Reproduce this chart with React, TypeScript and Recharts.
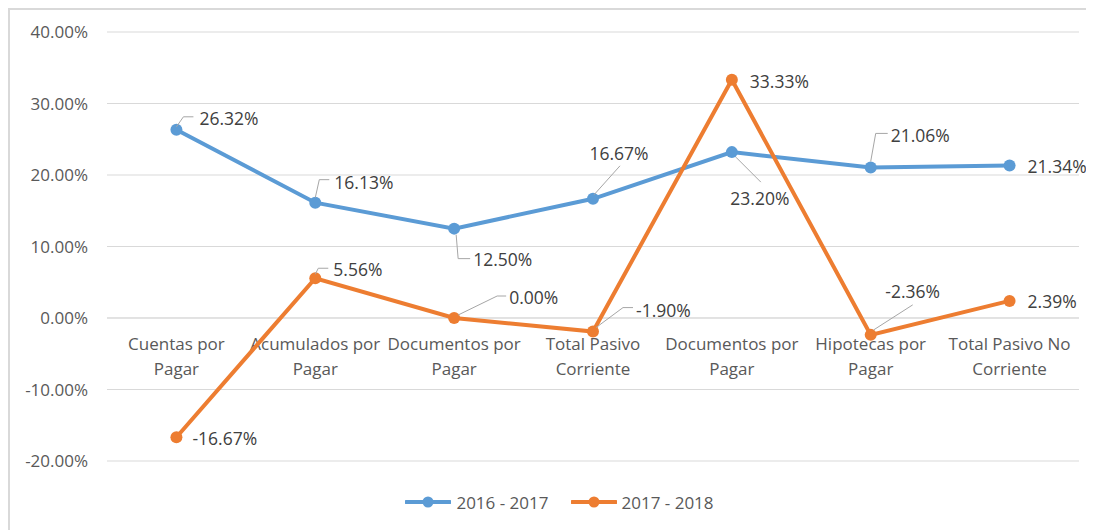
import React from 'react';
import { LineChart, Line, XAxis, YAxis, CartesianGrid, ReferenceLine, Legend, LabelList } from 'recharts';

const categories = [
  'Cuentas por\nPagar',
  'Acumulados por\nPagar',
  'Documentos por\nPagar',
  'Total Pasivo\nCorriente',
  'Documentos por\nPagar',
  'Hipotecas por\nPagar',
  'Total Pasivo No\nCorriente',
];
const series2016 = [26.32, 16.13, 12.5, 16.67, 23.2, 21.06, 21.34];
const series2017 = [-16.67, 5.56, 0.0, -1.9, 33.33, -2.36, 2.39];
const yTicks = [-20, -10, 0, 10, 20, 30, 40];
const seriesNames = ['2016 - 2017', '2017 - 2018'];

const data = categories.map((name, i) => ({ id: `c${i}`, name, a: series2016[i], b: series2017[i] }));

const BLUE = '#5B9BD5';
const ORANGE = '#ED7D31';
const GRID = '#D9D9D9';
const FONT = "'Open Sans', sans-serif";

type LabelPos = { dx: number; dy: number; anchor: 'start' | 'middle' | 'end'; leader?: [number, number][] };

const blueLabels: LabelPos[] = [
  { dx: 23, dy: -12, anchor: 'start', leader: [[0, -3], [7, -13], [17, -13]] },
  { dx: 19, dy: -21, anchor: 'start', leader: [[0, -5], [4, -23], [14, -23]] },
  { dx: 19, dy: 30, anchor: 'start', leader: [[2, 6], [4, 30], [16, 30]] },
  { dx: 26, dy: -46, anchor: 'middle', leader: [[1, -4], [27, -33]] },
  { dx: 28, dy: 46, anchor: 'middle', leader: [[4, 5], [29, 30]] },
  { dx: 20, dy: -32, anchor: 'start', leader: [[0, -6], [5, -34], [17, -34]] },
  { dx: 18, dy: 1, anchor: 'start' },
];
const orangeLabels: LabelPos[] = [
  { dx: 16, dy: 1, anchor: 'start' },
  { dx: 18, dy: -9, anchor: 'start', leader: [[0, -4], [3, -10], [13, -10]] },
  { dx: 55, dy: -21, anchor: 'start', leader: [[4, -3], [43, -22], [52, -22]] },
  { dx: 43, dy: -22, anchor: 'start', leader: [[3, -4], [30, -24], [40, -24]] },
  { dx: 18, dy: 1, anchor: 'start' },
  { dx: 42, dy: -44, anchor: 'middle', leader: [[3, -5], [42, -30]] },
  { dx: 18, dy: 0, anchor: 'start' },
];

const fmt = (v: number) => `${v.toFixed(2)}%`;

const makeLabel = (positions: LabelPos[]) => (props: any) => {
  const { index, value } = props;
  const x = props.x ?? props.viewBox?.x;
  const y = props.y ?? props.viewBox?.y;
  const p = positions[index];
  if (!p || x == null || y == null) return null;
  return (
    <g>
      {p.leader && (
        <polyline
          points={p.leader.map(([lx, ly]) => `${x + lx},${y + ly}`).join(' ')}
          fill="none"
          stroke="#A6A6A6"
          strokeWidth={1}
        />
      )}
      <text
        x={x + p.dx}
        y={y + p.dy}
        textAnchor={p.anchor}
        dominantBaseline="central"
        fontSize={17.5}
        fill="#404040"
        fontFamily={FONT}
      >
        {fmt(Number(value))}
      </text>
    </g>
  );
};

const CategoryLabels = (props: any) => {
  const vb = props.viewBox || {};
  const n = categories.length;
  const step = vb.width / n;
  return (
    <g>
      {categories.map((c, i) => {
        const cx = vb.x + step * (i + 0.5);
        return (
          <text key={i} x={cx} textAnchor="middle" fontSize={17} fill="#595959" fontFamily={FONT}>
            {c.split('\n').map((line, j) => (
              <tspan key={j} x={cx} y={vb.y + 25 + j * 25} dominantBaseline="central">
                {line}
              </tspan>
            ))}
          </text>
        );
      })}
    </g>
  );
};

const LegendContent = () => (
  <div
    style={{
      display: 'flex',
      justifyContent: 'center',
      alignItems: 'center',
      height: 24,
      paddingLeft: 15,
      fontFamily: FONT,
      fontSize: 17,
      color: '#595959',
    }}
  >
    {[BLUE, ORANGE].map((col, i) => (
      <div key={i} style={{ display: 'flex', alignItems: 'center', marginRight: i === 0 ? 22 : 0 }}>
        <svg width={46} height={14} style={{ marginRight: 5 }}>
          <line x1={1} y1={7} x2={45} y2={7} stroke={col} strokeWidth={4} strokeLinecap="round" />
          <circle cx={23} cy={7} r={5.5} fill={col} />
        </svg>
        <span>{seriesNames[i]}</span>
      </div>
    ))}
  </div>
);

export default function App() {
  return (
    <div
      style={{
        width: 1084,
        height: 520,
        borderLeft: '2px solid #D9D9D9',
        borderTop: '2px solid #D9D9D9',
        background: '#fff',
        fontFamily: FONT,
        position: 'relative',
      }}
    >
      <LineChart width={1084} height={520} data={data} margin={{ top: 22, right: 15, bottom: 69, left: 0 }}>
        <CartesianGrid horizontal vertical={false} stroke={GRID} strokeWidth={1} />
        <XAxis dataKey="id" type="category" scale="band" hide />
        <YAxis
          type="number"
          domain={[-20, 40]}
          ticks={yTicks}
          width={97}
          axisLine={false}
          tickLine={false}
          tickSize={0}
          tickMargin={19}
          tickFormatter={(v: number) => fmt(v)}
          tick={{ fontSize: 17, fill: '#595959', fontFamily: FONT }}
          interval={0}
        />
        <ReferenceLine y={0} stroke={GRID} strokeWidth={1} label={<CategoryLabels />} />
        <Legend
          verticalAlign="middle"
          layout="horizontal"
          content={<LegendContent />}
          wrapperStyle={{ top: 480, left: 0, width: 1084 }}
        />
        <Line
          type="linear"
          dataKey="a"
          name={seriesNames[0]}
          stroke={BLUE}
          strokeWidth={4}
          dot={{ r: 6, fill: BLUE, stroke: BLUE, strokeWidth: 0 }}
          isAnimationActive={false}
        >
          <LabelList dataKey="a" content={makeLabel(blueLabels)} />
        </Line>
        <Line
          type="linear"
          dataKey="b"
          name={seriesNames[1]}
          stroke={ORANGE}
          strokeWidth={4}
          dot={{ r: 6, fill: ORANGE, stroke: ORANGE, strokeWidth: 0 }}
          isAnimationActive={false}
        >
          <LabelList dataKey="b" content={makeLabel(orangeLabels)} />
        </Line>
      </LineChart>
    </div>
  );
}
